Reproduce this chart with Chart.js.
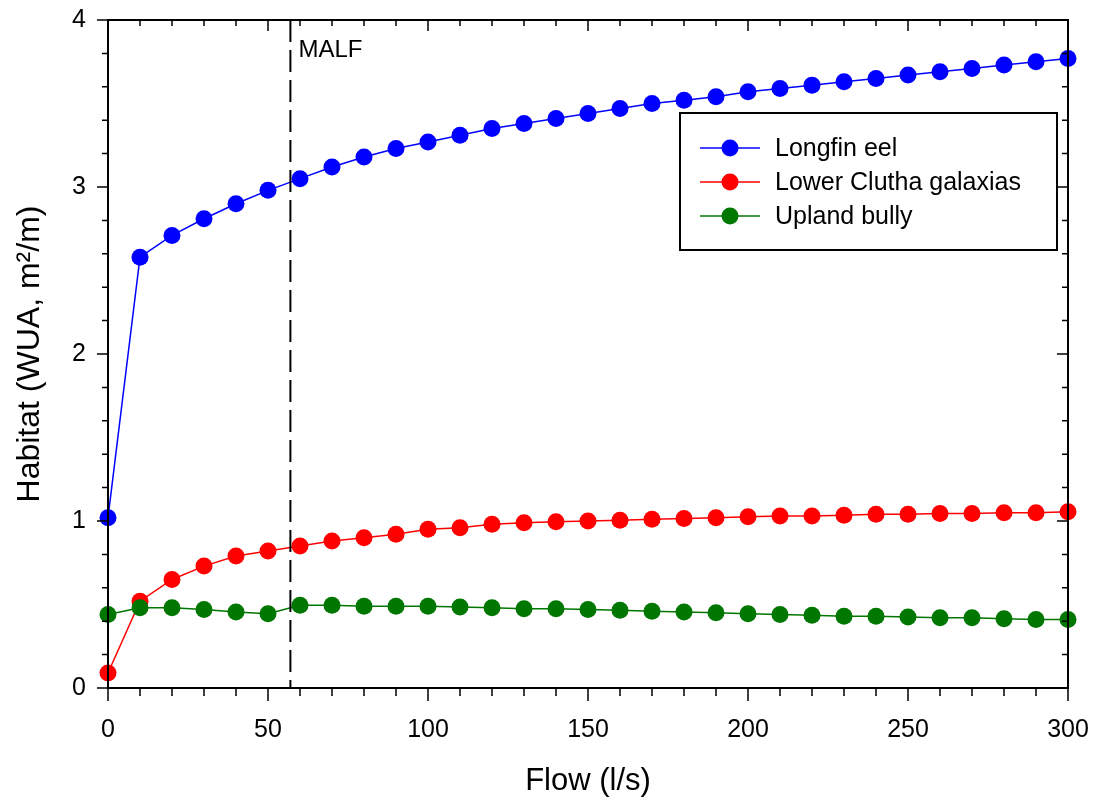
<!DOCTYPE html>
<html>
<head>
<meta charset="utf-8">
<script src="https://cdn.jsdelivr.net/npm/chart.js@4.4.0/dist/chart.umd.min.js"></script>
<style>
  html, body { margin: 0; padding: 0; background: #fff; }
  #wrap { width: 1095px; height: 803px; }
</style>
</head>
<body>
<div id="wrap"><canvas id="chart" width="1095" height="803"></canvas></div>
<script>
// flow steps (l/s)
const flow = [0, 10, 20, 30, 40, 50, 60, 70, 80, 90, 100, 110, 120, 130, 140, 150,
              160, 170, 180, 190, 200, 210, 220, 230, 240, 250, 260, 270, 280, 290, 300];

// WUA values (m2/m)
const longfinEel = [1.02, 2.58, 2.71, 2.81, 2.90, 2.98, 3.05, 3.12, 3.18, 3.23, 3.27, 3.31, 3.35, 3.38, 3.41, 3.44,
                    3.47, 3.50, 3.52, 3.54, 3.57, 3.59, 3.61, 3.63, 3.65, 3.67, 3.69, 3.71, 3.73, 3.75, 3.77];
const lowerClutha = [0.09, 0.52, 0.65, 0.73, 0.79, 0.82, 0.85, 0.88, 0.90, 0.92, 0.95, 0.96, 0.98, 0.99, 0.995, 1.00,
                     1.005, 1.01, 1.015, 1.02, 1.025, 1.03, 1.03, 1.035, 1.04, 1.04, 1.045, 1.045, 1.05, 1.05, 1.055];
const uplandBully = [0.44, 0.48, 0.48, 0.47, 0.455, 0.445, 0.495, 0.495, 0.49, 0.49, 0.49, 0.485, 0.48, 0.475, 0.475, 0.47,
                     0.465, 0.46, 0.455, 0.45, 0.445, 0.44, 0.435, 0.43, 0.43, 0.425, 0.42, 0.42, 0.415, 0.41, 0.41];

const xTicks = [0, 50, 100, 150, 200, 250, 300];
const yTicks = [0, 1, 2, 3, 4];
const malf = 57;

const AREA = { left: 108, right: 1068, top: 20, bottom: 688 };

function pts(ys) {
    return flow.map((f, i) => ({ x: f, y: ys[i] }));
}

function series(label, ys, color, order) {
    return {
        label,
        data: pts(ys),
        borderColor: color,
        backgroundColor: color,
        pointBackgroundColor: color,
        pointBorderColor: color,
        borderWidth: 1.5,
        pointRadius: 8.5,
        pointHoverRadius: 8.5,
        pointBorderWidth: 0,
        tension: 0,
        showLine: true,
        clip: false,
        order
    };
}

// frame, ticks, MALF line and legend
const decorations = {
    id: "decorations",
    afterDatasetsDraw(chart) {
        const ctx = chart.ctx;
        const xs = chart.scales.x, ys = chart.scales.y;
        const L = xs.getPixelForValue(0), R = xs.getPixelForValue(300);
        const T = ys.getPixelForValue(4), B = ys.getPixelForValue(0);
        ctx.save();

        // MALF dashed line
        const mx = xs.getPixelForValue(malf);
        ctx.strokeStyle = "#000";
        ctx.lineWidth = 2;
        ctx.setLineDash([22, 8]);
        ctx.beginPath();
        ctx.moveTo(mx, T);
        ctx.lineTo(mx, B);
        ctx.stroke();
        ctx.setLineDash([]);
        ctx.fillStyle = "#000";
        ctx.font = "24px Arial, 'Liberation Sans'";
        ctx.textBaseline = "alphabetic";
        ctx.textAlign = "left";
        ctx.fillText("MALF", mx + 8, 57);

        // frame
        ctx.lineWidth = 2;
        ctx.beginPath();
        ctx.rect(L, T, R - L, B - T);
        ctx.stroke();

        // x ticks (minor every 10, major every 50)
        ctx.lineWidth = 1.5;
        ctx.beginPath();
        for (let v = 0; v <= 300; v += 10) {
            const px = xs.getPixelForValue(v);
            const major = v % 50 === 0;
            ctx.moveTo(px, B);
            ctx.lineTo(px, B + (major ? 13 : 8));
            ctx.moveTo(px, T);
            ctx.lineTo(px, T + (major ? 11 : 6));
        }
        // y ticks (minor every 0.2)
        for (let k = 0; k <= 20; k++) {
            const v = k / 5;
            const py = ys.getPixelForValue(v);
            const major = k % 5 === 0;
            ctx.moveTo(L, py);
            ctx.lineTo(L - (major ? 11 : 6), py);
            ctx.moveTo(R, py);
            ctx.lineTo(R - (major ? 11 : 6), py);
        }
        ctx.stroke();

        // legend
        const box = { x: 680, y: 113, w: 377, h: 137 };
        ctx.fillStyle = "#fff";
        ctx.fillRect(box.x, box.y, box.w, box.h);
        ctx.strokeStyle = "#000";
        ctx.lineWidth = 2;
        ctx.strokeRect(box.x, box.y, box.w, box.h);
        ctx.font = "25px Arial, 'Liberation Sans'";
        ctx.textBaseline = "middle";
        chart.data.datasets.forEach((ds, i) => {
            const cy = 148 + i * 34;
            ctx.strokeStyle = ds.borderColor;
            ctx.lineWidth = 1.5;
            ctx.beginPath();
            ctx.moveTo(700, cy);
            ctx.lineTo(760, cy);
            ctx.stroke();
            ctx.fillStyle = ds.pointBackgroundColor;
            ctx.beginPath();
            ctx.arc(730, cy, 8.5, 0, Math.PI * 2);
            ctx.fill();
            ctx.fillStyle = "#000";
            ctx.fillText(ds.label, 775, cy + 1);
        });
        ctx.restore();
    }
};

const font = "Arial, 'Liberation Sans', sans-serif";

new Chart(document.getElementById("chart"), {
    type: "scatter",
    data: {
        datasets: [
            series("Longfin eel", longfinEel, "#0000ff", 2),
            series("Lower Clutha galaxias", lowerClutha, "#ff0000", 1),
            series("Upland bully", uplandBully, "#007700", 0)
        ]
    },
    options: {
        responsive: false,
        animation: false,
        devicePixelRatio: 1,
        layout: { padding: { top: AREA.top, right: 1095 - AREA.right, left: 0, bottom: 0 } },
        plugins: { legend: { display: false }, tooltip: { enabled: false } },
        scales: {
            x: {
                type: "linear",
                min: 0,
                max: 300,
                afterBuildTicks: s => { s.ticks = xTicks.map(v => ({ value: v })); },
                afterFit: s => {
                    s.height = 803 - AREA.bottom;
                    s.paddingLeft = 0;
                    s.paddingRight = 0;
                },
                grid: { display: false, drawTicks: false },
                border: { display: false },
                ticks: { color: "#000", font: { family: font, size: 25 }, padding: 27, maxRotation: 0 },
                title: { display: true, text: "Flow (l/s)", color: "#000",
                         font: { family: font, size: 31 }, padding: { top: 0, bottom: 3 } }
            },
            y: {
                type: "linear",
                min: 0,
                max: 4,
                afterBuildTicks: s => { s.ticks = yTicks.map(v => ({ value: v })); },
                afterFit: s => {
                    s.width = AREA.left;
                    s.paddingTop = 0;
                    s.paddingBottom = 0;
                },
                grid: { display: false, drawTicks: false },
                border: { display: false },
                ticks: { color: "#000", font: { family: font, size: 25 }, padding: 22 },
                title: { display: true, text: "Habitat (WUA, m²/m)", color: "#000",
                         font: { family: font, size: 32 }, padding: { top: 11, bottom: 0 } }
            }
        }
    },
    plugins: [decorations]
});
</script>
</body>
</html>
